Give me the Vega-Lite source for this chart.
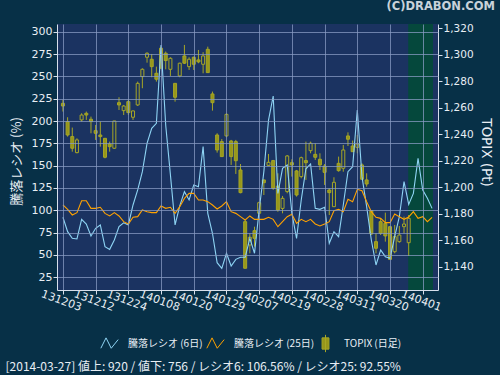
{
  "$schema": "https://vega.github.io/schema/vega-lite/v6.json",
  "width": 381,
  "height": 266,
  "autosize": {"type": "none"},
  "padding": {"left": 57, "top": 24, "right": 62, "bottom": 85},
  "background": "#073047",
  "view": {"fill": "#1b3361", "stroke": null},
  "title": {"text": "(C)DRABON.COM", "anchor": "end", "orient": "top", "frame": "group", "dx": 57, "offset": 11, "font": "DejaVu Sans", "fontSize": 11.5, "fontWeight": "bold", "color": "#c8d2da"},
  "datasets": {
    "shade": [{"i": 73.9, "i2": 79.2}],
    "topix": [
      {"i":0,"o":1263.3,"h":1265.9,"l":1257.1,"c":1261.3},
      {"i":1,"o":1249.5,"h":1252.8,"l":1238.2,"c":1239.4},
      {"i":2,"o":1238.2,"h":1245,"l":1226.8,"c":1229.4},
      {"i":3,"o":1226.1,"h":1236.9,"l":1225.6,"c":1235.7},
      {"i":4,"o":1250.8,"h":1255.8,"l":1249.5,"c":1254.5},
      {"i":5,"o":1255.8,"h":1257.1,"l":1250.8,"c":1254.5},
      {"i":6,"o":1251.3,"h":1253.3,"l":1240.7,"c":1249.5},
      {"i":7,"o":1242.7,"h":1247,"l":1235.7,"c":1240.7},
      {"i":8,"o":1239.4,"h":1249.5,"l":1230.6,"c":1238.2},
      {"i":9,"o":1236.9,"h":1236.9,"l":1221.8,"c":1222.6},
      {"i":10,"o":1232.6,"h":1234.4,"l":1226.8,"c":1230.6},
      {"i":11,"o":1229.4,"h":1250,"l":1228.9,"c":1250},
      {"i":12,"o":1263.8,"h":1267.9,"l":1258.3,"c":1262.1},
      {"i":13,"o":1257.8,"h":1262.1,"l":1254.5,"c":1261.3},
      {"i":14,"o":1264.6,"h":1266.4,"l":1254.5,"c":1256.3},
      {"i":15,"o":1252.8,"h":1257.8,"l":1250.8,"c":1257.6},
      {"i":16,"o":1262.1,"h":1279.7,"l":1261.3,"c":1278.4},
      {"i":17,"o":1283.5,"h":1289.8,"l":1274.7,"c":1289.0},
      {"i":18,"o":1298.1,"h":1301.9,"l":1294.0,"c":1301.1},
      {"i":19,"o":1296.6,"h":1300.6,"l":1283,"c":1291.0},
      {"i":20,"o":1286.0,"h":1291.0,"l":1279.7,"c":1281.5},
      {"i":21,"o":1304.9,"h":1306.1,"l":1289.8,"c":1289.8},
      {"i":22,"o":1301.1,"h":1302.4,"l":1289.0,"c":1295.6},
      {"i":23,"o":1289.0,"h":1298.1,"l":1284,"c":1297.3},
      {"i":24,"o":1278.4,"h":1278.4,"l":1264.6,"c":1267.9},
      {"i":25,"o":1284,"h":1294.0,"l":1283,"c":1293.6},
      {"i":26,"o":1299.1,"h":1307.4,"l":1293.0,"c":1293.6},
      {"i":27,"o":1291.0,"h":1298.1,"l":1288.5,"c":1296.6},
      {"i":28,"o":1298.1,"h":1298.6,"l":1288.5,"c":1292.8},
      {"i":29,"o":1296.1,"h":1303.6,"l":1293.6,"c":1294.6},
      {"i":30,"o":1292.8,"h":1301.9,"l":1286,"c":1299.1},
      {"i":31,"o":1304.1,"h":1306.1,"l":1286.5,"c":1286.5},
      {"i":32,"o":1270.4,"h":1272.2,"l":1257.8,"c":1263.8},
      {"i":33,"o":1239.4,"h":1240.7,"l":1226.1,"c":1228.1},
      {"i":34,"o":1234.4,"h":1236.4,"l":1223.1,"c":1223.1},
      {"i":35,"o":1238.7,"h":1255.8,"l":1237.7,"c":1255.0},
      {"i":36,"o":1234.9,"h":1235.7,"l":1216.8,"c":1223.1},
      {"i":37,"o":1234.4,"h":1235.7,"l":1210,"c":1220},
      {"i":38,"o":1213.0,"h":1217.5,"l":1195.4,"c":1195.9},
      {"i":39,"o":1174,"h":1175.3,"l":1138.8,"c":1138.8},
      {"i":40,"o":1156.4,"h":1165.2,"l":1150.1,"c":1162.2},
      {"i":41,"o":1167.2,"h":1170.2,"l":1155.1,"c":1161.4},
      {"i":42,"o":1180.3,"h":1189.1,"l":1179.8,"c":1188.3},
      {"i":43,"o":1205.5,"h":1205.5,"l":1194.1,"c":1203.4},
      {"i":44,"o":1216.5,"h":1225.1,"l":1216.0,"c":1218.8},
      {"i":45,"o":1220.1,"h":1220.6,"l":1198,"c":1199.2},
      {"i":46,"o":1200.9,"h":1210.5,"l":1181.5,"c":1182.8},
      {"i":47,"o":1184,"h":1193.4,"l":1180.3,"c":1191.6},
      {"i":48,"o":1196.7,"h":1224.3,"l":1195.4,"c":1223.6},
      {"i":49,"o":1218.5,"h":1221.1,"l":1208,"c":1216.8},
      {"i":50,"o":1212.3,"h":1213,"l":1192.9,"c":1194.1},
      {"i":51,"o":1208,"h":1223.1,"l":1206.7,"c":1222.3},
      {"i":52,"o":1220.1,"h":1234.4,"l":1205.5,"c":1218.5},
      {"i":53,"o":1227.6,"h":1234.4,"l":1225.6,"c":1233.2},
      {"i":54,"o":1224.8,"h":1233.2,"l":1220.6,"c":1222.6},
      {"i":55,"o":1221.1,"h":1225.6,"l":1213,"c":1216.8},
      {"i":56,"o":1216.0,"h":1217.5,"l":1201.7,"c":1211.2},
      {"i":57,"o":1197.9,"h":1199.2,"l":1179.0,"c":1195.9},
      {"i":58,"o":1185.3,"h":1207.5,"l":1185.3,"c":1203.7},
      {"i":59,"o":1218.0,"h":1223.1,"l":1211.7,"c":1212.5},
      {"i":60,"o":1214.3,"h":1231.9,"l":1211.7,"c":1228.1},
      {"i":61,"o":1238.7,"h":1241.4,"l":1231.1,"c":1236.2},
      {"i":62,"o":1231.1,"h":1235.2,"l":1226.8,"c":1226.8},
      {"i":63,"o":1230.1,"h":1239.4,"l":1225.6,"c":1232.6},
      {"i":64,"o":1216.8,"h":1218.0,"l":1205.5,"c":1206.0},
      {"i":65,"o":1205.5,"h":1210.5,"l":1200.4,"c":1202.4},
      {"i":66,"o":1182.3,"h":1182.8,"l":1163.9,"c":1164.7},
      {"i":67,"o":1158.9,"h":1165.2,"l":1150.1,"c":1153.9},
      {"i":68,"o":1174.0,"h":1176.5,"l":1163.9,"c":1165.2},
      {"i":69,"o":1172.7,"h":1180.8,"l":1158.9,"c":1163.2},
      {"i":70,"o":1170.2,"h":1170.7,"l":1145.0,"c":1145.5},
      {"i":71,"o":1151.3,"h":1171.5,"l":1150.1,"c":1162.7},
      {"i":72,"o":1158.9,"h":1170.7,"l":1158.1,"c":1163.9},
      {"i":73,"o":1170.2,"h":1177.8,"l":1165.2,"c":1172.2},
      {"i":74,"o":1158.1,"h":1179,"l":1148.1,"c":1176.5}
    ],
    "ratio": [
      {"i":0,"r6":92.2,"r25":106},{"i":1,"r6":76.1,"r25":101.1},{"i":2,"r6":68.7,"r25":94.8},{"i":3,"r6":67.9,"r25":97.4},{"i":4,"r6":89.9,"r25":110.8},
      {"i":5,"r6":84.7,"r25":110.8},{"i":6,"r6":71.3,"r25":102.2},{"i":7,"r6":79.9,"r25":102.2},{"i":8,"r6":83.6,"r25":103.4},{"i":9,"r6":59.3,"r25":96.6},
      {"i":10,"r6":56.3,"r25":93.7},{"i":11,"r6":66.8,"r25":97.4},{"i":12,"r6":81.7,"r25":93.7},{"i":13,"r6":86,"r25":87.3},{"i":14,"r6":83.6,"r25":84.7},
      {"i":15,"r6":106,"r25":92.2},{"i":16,"r6":122.8,"r25":92.9},{"i":17,"r6":143.3,"r25":100.4},{"i":18,"r6":175,"r25":98.5},{"i":19,"r6":191.8,"r25":97.4},
      {"i":20,"r6":197.4,"r25":97.4},{"i":21,"r6":285.1,"r25":104.9},{"i":22,"r6":195,"r25":102.2},{"i":23,"r6":140,"r25":103.4},{"i":24,"r6":83.6,"r25":96.6},
      {"i":25,"r6":105,"r25":104.1},{"i":26,"r6":120.9,"r25":113.4},{"i":27,"r6":111.6,"r25":119},{"i":28,"r6":128.4,"r25":119},{"i":29,"r6":126.5,"r25":111.6},
      {"i":30,"r6":171.3,"r25":111.6},{"i":31,"r6":96.6,"r25":109.7},{"i":32,"r6":74.3,"r25":106},{"i":33,"r6":41.4,"r25":101.5},{"i":34,"r6":35.1,"r25":104.9},
      {"i":35,"r6":51.9,"r25":109.7},{"i":36,"r6":37.7,"r25":98.5},{"i":37,"r6":45.1,"r25":96.6},{"i":38,"r6":47.4,"r25":92.9},{"i":39,"r6":47.4,"r25":89.2},
      {"i":40,"r6":68.6,"r25":93.7},{"i":41,"r6":51.9,"r25":89.9},{"i":42,"r6":100.4,"r25":89.9},{"i":43,"r6":143.3,"r25":89.9},{"i":44,"r6":201.1,"r25":92.2},
      {"i":45,"r6":228,"r25":89.9},{"i":46,"r6":119,"r25":81.7},{"i":47,"r6":147,"r25":87.3},{"i":48,"r6":150.8,"r25":92.9},{"i":49,"r6":96.6,"r25":95.5},
      {"i":50,"r6":68.6,"r25":85.4},{"i":51,"r6":111.6,"r25":89.9},{"i":52,"r6":146.5,"r25":87.3},{"i":53,"r6":151.9,"r25":89.9},{"i":54,"r6":102.2,"r25":84.7},
      {"i":55,"r6":101.1,"r25":82.5},{"i":56,"r6":103.4,"r25":84.7},{"i":57,"r6":63.1,"r25":87.3},{"i":58,"r6":76.1,"r25":99.6},{"i":59,"r6":70.5,"r25":101.1},
      {"i":60,"r6":106,"r25":98.5},{"i":61,"r6":143.3,"r25":112.3},{"i":62,"r6":148.9,"r25":109.7},{"i":63,"r6":212.3,"r25":123.5},{"i":64,"r6":137.7,"r25":122},
      {"i":65,"r6":104.1,"r25":109.7},{"i":66,"r6":66.8,"r25":98.5},{"i":67,"r6":38.8,"r25":92.2},{"i":68,"r6":55.6,"r25":91},{"i":69,"r6":48.1,"r25":86.2},
      {"i":70,"r6":46.3,"r25":86.2},{"i":71,"r6":70.5,"r25":95.9},{"i":72,"r6":92.9,"r25":92.9},{"i":73,"r6":132.1,"r25":89.9},{"i":74,"r6":106.6,"r25":92.6},
      {"i":75,"r6":119,"r25":98.5},{"i":76,"r6":158.2,"r25":91},{"i":77,"r6":122.8,"r25":92.9},{"i":78,"r6":113.4,"r25":87.3},{"i":79,"r6":102.2,"r25":92.2}
    ]
  },
  "layer": [
    {
      "layer": [
        {
          "data": {"name": "shade"},
          "mark": {"type": "rect", "color": "#05483c"},
          "encoding": {
            "x": {"field": "i", "type": "quantitative", "scale": {"domain": [-0.2, 79.2], "nice": false, "zero": false}},
            "x2": {"field": "i2"}
          }
        },
        {
          "data": {"name": "topix"},
          "mark": {"type": "rule", "color": "#a6a626", "strokeWidth": 1},
          "encoding": {
            "x": {"field": "i", "type": "quantitative"},
            "y": {"field": "l", "type": "quantitative", "scale": {"domain": [1122.4, 1323.2], "nice": false, "zero": false},
              "axis": {"orient": "right", "title": "TOPIX (Pt)", "values": [1140,1160,1180,1200,1220,1240,1260,1280,1300,1320], "tickCount": 50, "format": ",d", "grid": false,
                "labelFontSize": 10.5, "labelPadding": 1, "labelOverlap": false, "titleX": 47, "titleY": 128, "titleAngle": 90, "titleBaseline": "middle", "titleAlign": "center", "titleFont": "DejaVu Sans", "titleFontSize": 13.5, "titleFontWeight": "normal"}},
            "y2": {"field": "h"}
          }
        },
        {
          "data": {"name": "topix"},
          "mark": {"type": "bar", "width": 3, "stroke": "#a6a626", "strokeWidth": 1},
          "encoding": {
            "x": {"field": "i", "type": "quantitative"},
            "y": {"field": "o", "type": "quantitative", "scale": {"domain": [1122.4, 1323.2], "nice": false, "zero": false}},
            "y2": {"field": "c"},
            "fill": {"condition": {"test": "datum.c > datum.o", "value": "#1b3361"}, "value": "#97971a"}
          }
        }
      ]
    },
    {
      "data": {"name": "ratio"},
      "layer": [
        {
          "mark": {"type": "line", "strokeWidth": 1.1},
          "encoding": {
            "x": {"field": "i", "type": "quantitative", "scale": {"domain": [-0.2, 79.2], "nice": false, "zero": false},
              "axis": {"title": "[2014-03-27]  値上: 920 / 値下: 756 / レシオ6: 106.56% / レシオ25: 92.55%",
                "values": [0,7,14,21,28,35,42,49,56,63,70,77], "tickCount": 50,
                "labelExpr": "['131203','131212','131224','140108','140120','140129','140207','140219','140228','140311','140320','140401'][round(datum.value/7)]",
                "labelAngle": 20, "labelAlign": "center", "labelBaseline": "top", "labelFontSize": 11, "labelPadding": 1, "labelFlush": false, "labelOverlap": false,
                "grid": true, "zindex": 1,
                "titleX": -52, "titleY": 76, "titleAlign": "left", "titleAnchor": null, "titleBaseline": "middle", "titleAngle": 0,
                "titleFont": "Noto Sans CJK JP", "titleFontSize": 12, "titleFontWeight": "normal"}},
            "y": {"field": "r6", "type": "quantitative", "scale": {"domain": [10.8, 308.6], "nice": false, "zero": false},
              "axis": {"orient": "left", "title": "騰落レシオ (%)", "values": [25,50,75,100,125,150,175,200,225,250,275,300], "tickCount": 50, "grid": true, "zindex": 1,
                "labelFontSize": 11, "labelPadding": 1, "labelOverlap": false, "titleX": -41, "titleY": 137, "titleAngle": -90, "titleBaseline": "middle", "titleAlign": "center",
                "titleFont": "Noto Sans CJK JP", "titleFontSize": 13, "titleFontWeight": "normal"}},
            "color": {"datum": "騰落レシオ (6日)"}
          }
        },
        {
          "mark": {"type": "line", "strokeWidth": 1.1},
          "encoding": {
            "x": {"field": "i", "type": "quantitative"},
            "y": {"field": "r25", "type": "quantitative"},
            "color": {"datum": "騰落レシオ (25日)", "scale": {"domain": ["騰落レシオ (6日)", "騰落レシオ (25日)", "TOPIX (日足)"], "range": ["#8ed4f4", "#ffa200", "#a6a626"]},
              "legend": {"orient": "none", "legendX": 43, "legendY": 310, "direction": "horizontal", "title": null, "padding": 0,
                "symbolSize": 300, "symbolStrokeWidth": 1, "labelFont": "Noto Sans CJK JP", "labelFontSize": 10, "labelColor": "#e8eef4",
                "labelOffset": 9, "columnPadding": 1, "gridAlign": "none",
                "encode": {"symbols": {"update": {
                  "shape": {"signal": "datum.value === 'TOPIX (日足)' ? 'M0,-1V1M-0.4,-0.65H0.4V0.65H-0.4Z' : 'M-1,0.55L-0.4,-0.65L0.2,0.55L1,-0.45'"},
                  "fill": {"signal": "datum.value === 'TOPIX (日足)' ? '#97971a' : 'transparent'"},
                  "strokeWidth": {"value": 1}
                }}}}}
          }
        }
      ]
    }
  ],
  "resolve": {"scale": {"y": "independent"}},
  "config": {
    "font": "DejaVu Sans",
    "axis": {
      "labelColor": "#e8eef4", "titleColor": "#e8eef4", "labelFont": "DejaVu Sans", "labelOverlap": false,
      "tickColor": "#d8e0ec", "tickSize": 4, "domainColor": "#d8e0ec",
      "gridColor": "#8a9cc4", "gridOpacity": 0.75
    }
  }
}
